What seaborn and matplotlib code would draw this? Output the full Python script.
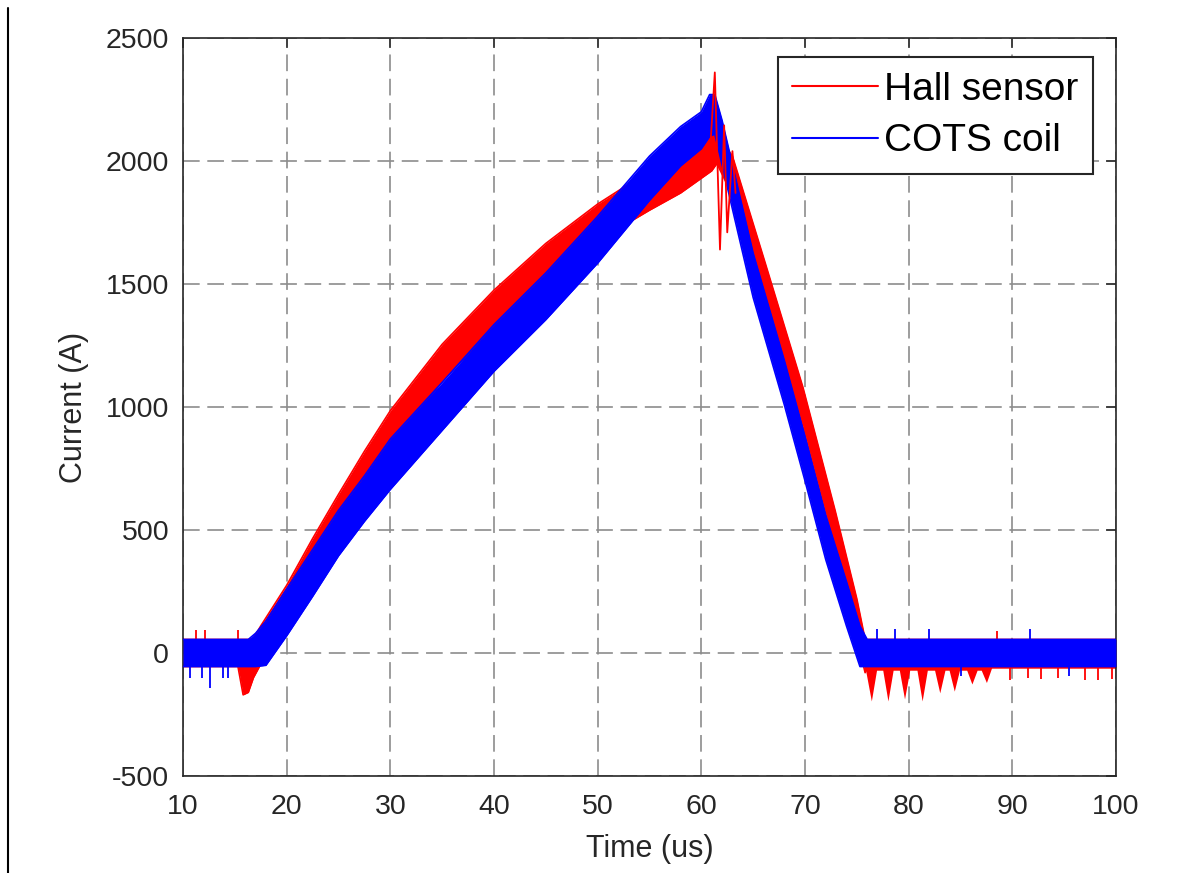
#------------- 0. SETUP -------------
import numpy as np
import pandas as pd
import matplotlib.pyplot as plt
from matplotlib.lines import Line2D
import seaborn as sns

sns.set_theme(style="white")
plt.rcParams["font.family"] = ["Liberation Sans", "DejaVu Sans"]
plt.rcParams["lines.scale_dashes"] = False
plt.rcParams["axes.unicode_minus"] = False

#------------- 1. DATA -------------
# COTS coil: band edges at breakpoints (time in us, current in A)
blue_t  = [10, 16.3, 17.0, 18.0, 20.0, 22.5, 25.0, 27.5, 30.0, 35.0, 40.0, 45.0, 50.0, 55.0, 58.0, 60.0, 60.8, 61.3, 62.0, 63.0, 65.0, 68.0, 70.0, 72.0, 74.0, 75.3, 76.0, 100]
blue_hi = [55, 55, 80, 130, 260, 420, 580, 720, 870, 1100, 1335, 1545, 1775, 2020, 2140, 2200, 2270, 2270, 2165, 1985, 1625, 1190, 880, 560, 290, 110, 55, 55]
blue_lo = [-55, -55, -55, -50, 70, 230, 395, 535, 665, 905, 1145, 1355, 1585, 1840, 1980, 2050, 2100, 2110, 1985, 1805, 1445, 1010, 700, 380, 110, -55, -55, -55]

# Hall sensor: band edges
red_t  = [10, 15.3, 15.8, 16.3, 16.8, 17.5, 20.0, 22.5, 25.0, 27.5, 30.0, 35.0, 40.0, 45.0, 50.0, 55.0, 58.0, 61.0, 61.5, 63.0, 66.2, 69.8, 72.9, 75.0, 75.8, 76.0, 100]
red_hi = [55, 55, 55, 55, 60, 110, 275, 465, 645, 820, 985, 1255, 1475, 1665, 1825, 1960, 2050, 2110, 2110, 2020, 1580, 1080, 580, 220, 55, 55, 55]
red_lo = [-55, -55, -170, -160, -100, -45, 125, 315, 495, 670, 835, 1105, 1325, 1515, 1675, 1800, 1870, 1960, 1990, 1860, 1420, 920, 420, 60, -80, -60, -60]

# Hall sensor ringing right at the peak
red_ring_t = [60.9, 61.3, 61.8, 62.2, 62.5, 63.0, 63.3]
red_ring_i = [2080, 2360, 1640, 2145, 1710, 2040, 1870]

# Hall sensor undershoot dips after the pulse
dip_t = [75.8, 76.4, 76.9, 77.5, 78.0, 78.5, 79.1, 79.6, 80.1, 80.8, 81.3, 81.8, 82.5, 83.0, 83.5,
         83.9, 84.4, 84.9, 85.6, 86.1, 86.6, 87.0, 87.5, 88.0]
dip_i = [-60, -195, -70, -70, -195, -70, -70, -187, -70, -70, -195, -70, -70, -162, -70,
         -70, -155, -70, -70, -126, -70, -70, -120, -60]

# isolated noise spikes on the flat parts
red_spk_t  = [11.3, 12.1, 15.3, 88.5, 89.8, 91.5, 92.8, 94.4, 97.0, 98.3, 99.6]
red_spk_lo = [0, 0, 0, 0, -110, -100, -105, -100, -110, -110, -105]
red_spk_hi = [94, 94, 94, 90, 0, 0, 0, 0, 0, 0, 0]

blue_spk_t  = [10.7, 11.8, 12.6, 13.9, 14.3, 76.9, 78.7, 82.0, 85.0, 91.7, 95.5]
blue_spk_lo = [-101, -101, -142, -101, -101, 0, 0, 0, -95, 0, -95]
blue_spk_hi = [0, 0, 0, 0, 0, 98, 98, 98, 0, 98, 0]

x_ticks = list(range(10, 101, 10))
y_ticks = list(range(-500, 2501, 500))

RED = "#ff0000"
BLUE = "#0000ff"
INK = "#262626"

#------------- 2. TABLE FOR SEABORN -------------
edges = pd.concat([
    pd.DataFrame({"time": red_t, "current": red_hi, "sensor": "Hall sensor", "edge": "hi"}),
    pd.DataFrame({"time": red_t, "current": red_lo, "sensor": "Hall sensor", "edge": "lo"}),
    pd.DataFrame({"time": blue_t, "current": blue_hi, "sensor": "COTS coil", "edge": "hi"}),
    pd.DataFrame({"time": blue_t, "current": blue_lo, "sensor": "COTS coil", "edge": "lo"}),
], ignore_index=True)

#------------- 3. PLOT -------------
fig = plt.figure(figsize=(12.01, 8.73), dpi=100)
ax = fig.add_axes([183 / 1201, 1 - 776 / 873, (1116 - 183) / 1201, (776 - 38) / 873])

# red first, blue drawn on top
ax.fill_between(red_t, red_lo, red_hi, color=RED, lw=0, zorder=2)
ax.fill_between(dip_t, dip_i, 0, color=RED, lw=0, zorder=2)
ax.vlines(red_spk_t, red_spk_lo, red_spk_hi, color=RED, lw=1.3, zorder=2)
sns.lineplot(data=edges[edges.sensor == "Hall sensor"], x="time", y="current", units="edge",
             estimator=None, color=RED, lw=1.2, ax=ax, zorder=2, legend=False)

ax.fill_between(blue_t, blue_lo, blue_hi, color=BLUE, lw=0, zorder=3)
ax.vlines(blue_spk_t, blue_spk_lo, blue_spk_hi, color=BLUE, lw=1.3, zorder=3)
sns.lineplot(data=edges[edges.sensor == "COTS coil"], x="time", y="current", units="edge",
             estimator=None, color=BLUE, lw=1.2, ax=ax, zorder=3, legend=False)

sns.lineplot(x=red_ring_t, y=red_ring_i, sort=False, estimator=None, color=RED, lw=1.3, ax=ax, zorder=4)

ax.set_xlim(10, 100)
ax.set_ylim(-500, 2500)
ax.set_xticks(x_ticks)
ax.set_yticks(y_ticks)
ax.grid(True, color="#8c8c8c", lw=1.2, linestyle=(0, (12, 5.5)))
ax.set_axisbelow(True)

for sp in ax.spines.values():
    sp.set_visible(True)
    sp.set_color(INK)
    sp.set_linewidth(1.2)

ax.tick_params(axis="both", direction="in", length=7, width=1.1, top=True, right=True,
               labelsize=20.5, colors=INK)
ax.tick_params(axis="x", pad=13)
ax.tick_params(axis="y", pad=10)

ax.set_xlabel("Time (us)", fontsize=22, color=INK, labelpad=10)
ax.set_ylabel("Current (A)", fontsize=22, color=INK, labelpad=12)

handles = [Line2D([0], [0], color=RED, lw=1.5), Line2D([0], [0], color=BLUE, lw=1.5)]
leg = ax.legend(handles, ["Hall sensor", "COTS coil"], loc="upper right",
                bbox_to_anchor=(1093 / 1201, 1 - 57 / 873), bbox_transform=fig.transFigure,
                borderaxespad=0, fontsize=28, frameon=True, fancybox=False, framealpha=1,
                handlelength=2.2, handletextpad=0.15, borderpad=0.38, labelspacing=0.4)
leg.get_frame().set_edgecolor(INK)
leg.get_frame().set_linewidth(1.5)
for txt in leg.get_texts():
    txt.set_color("black")

# screenshot border on the far left
fig.add_artist(Line2D([8 / 1201, 8 / 1201], [0, 1 - 8 / 873], color="black", lw=1.5))

fig.savefig("out.png", dpi=100, facecolor="white")
